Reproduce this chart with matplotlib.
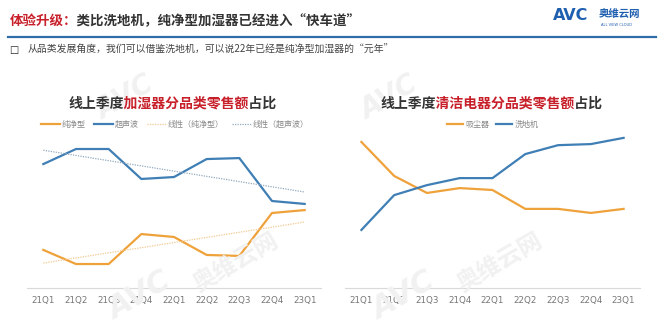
import numpy as np
import matplotlib
matplotlib.use("Agg")
import matplotlib.pyplot as plt
from matplotlib.transforms import Bbox

plt.rcParams['font.family'] = ['Noto Sans CJK SC', 'DejaVu Sans']

quarters = ["21Q1", "21Q2", "21Q3", "21Q4", "22Q1", "22Q2", "22Q3", "22Q4", "23Q1"]
# Humidifier sub-category shares (%)
pure_type = [23.5, 14.8, 14.8, 33.3, 31.5, 20.4, 19.8, 46.3, 48.1]
ultrasonic = [76.5, 85.8, 85.8, 67.3, 68.5, 79.6, 80.2, 53.7, 51.9]
# Cleaning appliance sub-category shares (%)
vacuum = [54.1, 41.5, 35.2, 37.0, 36.3, 29.3, 29.3, 27.8, 29.3]
floor_washer = [21.5, 34.4, 38.1, 40.7, 40.7, 49.6, 52.9, 53.3, 55.6]

ORANGE = "#EFA13A"
BLUE = "#3F7FB5"
ORANGE_T = "#F3C98F"
BLUE_T = "#93AABF"
RED = "#C8202B"
DARK = "#333333"
WM = "#F1F1F1"

W, H = 664, 328
DPI = 100
fig = plt.figure(figsize=(W / DPI, H / DPI), dpi=DPI)
fig.patch.set_facecolor("white")


def fx(px):
    return px / W


def fy(py):
    return 1 - py / H


# ---- watermarks (faint) ----
for dx in (0, 264):
    fig.text(fx(125 + dx), fy(98), "AVC", fontsize=20, color=WM, rotation=30, ha="center",
             va="center", fontweight="bold", fontstyle="italic", family="DejaVu Sans", zorder=0)
    fig.text(fx(140 + dx), fy(296), "AVC", fontsize=22, color=WM, rotation=30, ha="center",
             va="center", fontweight="bold", fontstyle="italic", family="DejaVu Sans", zorder=0)
    fig.text(fx(236 + dx), fy(262), "奥维云网", fontsize=17, color=WM, rotation=30, ha="center",
             va="center", fontweight="bold", zorder=0)


def draw_pieces(x_px, y_px, pieces, fontsize, weight="bold", ha="left"):
    """Draw one string whose character runs get different colours (via clipping)."""
    renderer = fig.canvas.get_renderer()
    full = "".join(s for s, _ in pieces)
    n = len(full)
    probe = fig.text(fx(x_px), fy(y_px), full, fontsize=fontsize, fontweight=weight,
                     va="center", ha=ha)
    ext = probe.get_window_extent(renderer=renderer)
    probe.remove()
    step = ext.width / n
    idx = 0
    for k, (s, c) in enumerate(pieces):
        x0 = ext.x0 + idx * step - (100 if k == 0 else step * 0.04)
        idx += len(s)
        x1 = ext.x0 + idx * step - (step * 0.04 if k < len(pieces) - 1 else -100)
        t = fig.text(fx(x_px), fy(y_px), full, fontsize=fontsize, fontweight=weight,
                     va="center", ha=ha, color=c)
        t.set_clip_box(Bbox([[x0, 0], [x1, H]]))
        t.set_clip_on(True)


# ---- header ----
draw_pieces(10, 21, [("体验升级：", RED), ("类比洗地机，纯净型加湿器已经进入“快车道”", DARK)], 9.7)
fig.add_artist(plt.Line2D([fx(8), fx(656)], [fy(36.5), fy(36.5)], color="#2F6DA8", lw=1.6))
fig.text(fx(553), fy(16), "AVC", fontsize=11.5, color="#1F5FAF", fontweight="bold",
         va="center", family="DejaVu Sans")
fig.text(fx(599), fy(14), "奥维云网", fontsize=7.5, color="#1F5FAF", fontweight="bold", va="center")
fig.text(fx(601), fy(25), "ALL VIEW CLOUD", fontsize=2.6, color="#1F5FAF", va="center",
         family="DejaVu Sans")
fig.text(fx(9), fy(50), "□", fontsize=7, color="#222222", va="center", fontweight="bold",
         family="DejaVu Sans")
fig.text(fx(28), fy(50), "从品类发展角度，我们可以借鉴洗地机，可以说22年已经是纯净型加湿器的“元年”",
         fontsize=7.1, color="#444444", va="center")

# ---- chart titles ----
draw_pieces(173, 104, [("线上季度", DARK), ("加湿器分品类零售额", RED), ("占比", DARK)], 10, ha="center")
draw_pieces(491, 104, [("线上季度", DARK), ("清洁电器分品类零售额", RED), ("占比", DARK)], 10, ha="center")

x = np.arange(len(quarters))


def style_ax(ax, ytop):
    ax.set_xlim(-0.5, len(quarters) - 0.5)
    ax.set_ylim(0, ytop)
    for s in ["top", "right", "left"]:
        ax.spines[s].set_visible(False)
    ax.spines["bottom"].set_color("#D9D9D9")
    ax.spines["bottom"].set_linewidth(0.8)
    ax.set_yticks([])
    ax.set_xticks(x)
    ax.set_xticklabels(quarters, fontsize=6.3, color="#777777", family="DejaVu Sans")
    ax.tick_params(axis="x", length=0, pad=6)
    ax.patch.set_alpha(0)


ax1 = fig.add_axes([fx(27), 1 - 288 / H, 294 / W, 162 / H])
style_ax(ax1, 100)
ax1.plot(x, pure_type, color=ORANGE, lw=1.6, label="纯净型")
ax1.plot(x, ultrasonic, color=BLUE, lw=1.6, label="超声波")
p1 = np.polyfit(x, pure_type, 1)
p2 = np.polyfit(x, ultrasonic, 1)
ax1.plot(x, np.polyval(p1, x), color=ORANGE_T, lw=0.9, ls=(0, (1, 1)), label="线性（纯净型）")
ax1.plot(x, np.polyval(p2, x), color=BLUE_T, lw=0.9, ls=(0, (1, 1)), label="线性（超声波）")
ax1.legend(loc="center", bbox_to_anchor=(fx(175), fy(124)), bbox_transform=fig.transFigure,
           ncol=4, frameon=False, fontsize=5.8, handlelength=2.3, handletextpad=0.3,
           columnspacing=1.0, labelcolor="#888888")

ax2 = fig.add_axes([fx(345), 1 - 288 / H, 295 / W, 162 / H])
style_ax(ax2, 60)
ax2.plot(x, vacuum, color=ORANGE, lw=1.6, label="吸尘器")
ax2.plot(x, floor_washer, color=BLUE, lw=1.6, label="洗地机")
ax2.legend(loc="center", bbox_to_anchor=(fx(493), fy(124)), bbox_transform=fig.transFigure,
           ncol=2, frameon=False, fontsize=5.8, handlelength=2.0, handletextpad=0.3,
           columnspacing=0.8, labelcolor="#888888")

fig.savefig("out.png", dpi=100, facecolor="white")
